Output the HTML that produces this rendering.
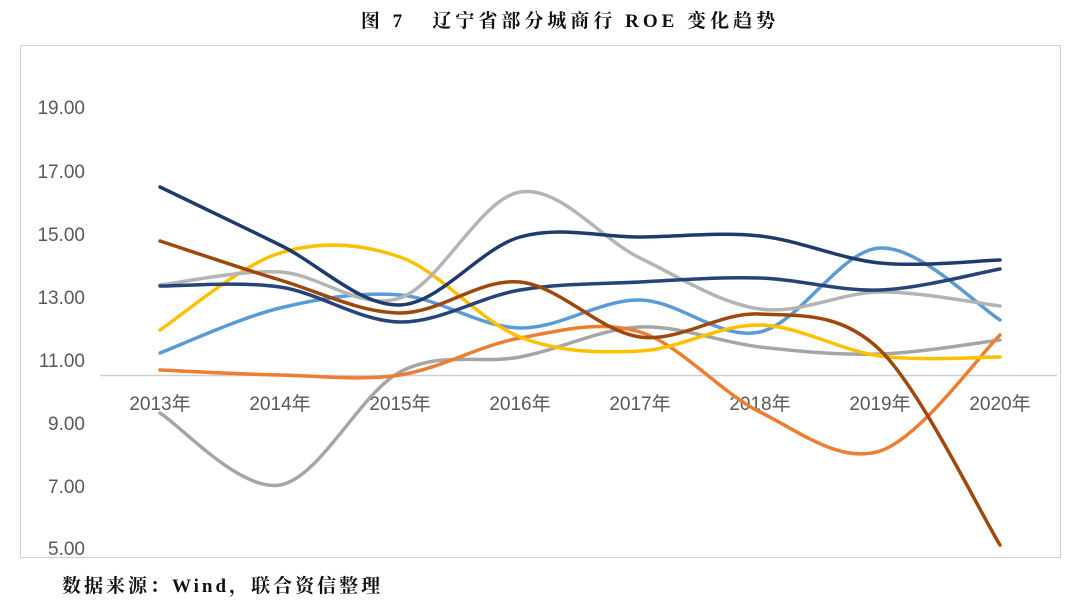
<!DOCTYPE html>
<html><head><meta charset="utf-8">
<style>
html,body{margin:0;padding:0;background:#fff;}
body{width:1080px;height:602px;position:relative;overflow:hidden;}
.t{position:absolute;font-family:"Liberation Serif","Noto Serif CJK SC",serif;font-weight:bold;color:#111;}
</style></head><body>
<div class="t" style="left:0;width:1140px;top:6px;text-align:center;font-size:19px;letter-spacing:4px;">图 7&nbsp;&nbsp;&nbsp;辽宁省部分城商行 ROE 变化趋势</div>
<div class="t" style="left:62px;top:571px;font-size:19px;letter-spacing:3px;">数据来源：Wind，联合资信整理</div>
<svg id="s" width="1080" height="602" style="position:absolute;left:0;top:0" font-family="Liberation Sans, Noto Sans CJK SC, sans-serif">
<rect x="20.5" y="45.5" width="1040" height="512" fill="none" stroke="#d0d0d0"/>
<line x1="100" y1="375.5" x2="1057" y2="375.5" stroke="#d0d0d0" stroke-width="1.5"/>
<g font-size="19" fill="#595959" text-anchor="end">
<text x="85" y="114">19.00</text><text x="85" y="178">17.00</text><text x="85" y="241">15.00</text>
<text x="85" y="304">13.00</text><text x="85" y="367">11.00</text><text x="85" y="430">9.00</text>
<text x="85" y="493">7.00</text><text x="85" y="555">5.00</text>
</g>
<g font-size="19" fill="#595959" text-anchor="middle">
<text x="160" y="410">2013年</text><text x="280" y="410">2014年</text><text x="400" y="410">2015年</text>
<text x="520" y="410">2016年</text><text x="640" y="410">2017年</text><text x="760" y="410">2018年</text>
<text x="880" y="410">2019年</text><text x="1000" y="410">2020年</text>
</g>
<g id="g" fill="none" stroke-width="3.5" stroke-linecap="round"></g>
</svg>
<script>
var S=[
["#a5a5a5",[413,485,372,357,327,347,354,340]],
["#ed7d31",[370,375,375,338,332,412,451,335]],
["#5b9bd5",[353,308,295,328,300,332,248,320]],
["#ffc000",[330,253,257,337,351,325,356,357]],
["#b4b4b4",[285,272,298,192,258,309,292,306]],
["#264478",[286,287,322,290,282,278,290,269]],
["#1f3b6e",[187,245,305,237,237,236,263,260]],
["#9e480e",[241,280,313,282,337,314,350,545]]
];
var g=document.getElementById('g'),h='';
S.forEach(function(s){var y=s[1],p=y.map(function(v,i){return[160+120*i,v]});
var d='M'+p[0][0]+','+p[0][1];
for(var i=0;i<p.length-1;i++){var a=p[i-1]||p[i],b=p[i],c=p[i+1],e=p[i+2]||c;
d+=' C'+(b[0]+(c[0]-a[0])/6)+','+(b[1]+(c[1]-a[1])/6)+' '+(c[0]-(e[0]-b[0])/6)+','+(c[1]-(e[1]-b[1])/6)+' '+c[0]+','+c[1];}
h+='<path d="'+d+'" stroke="'+s[0]+'"/>';});
g.innerHTML=h;
</script>
</body></html>
